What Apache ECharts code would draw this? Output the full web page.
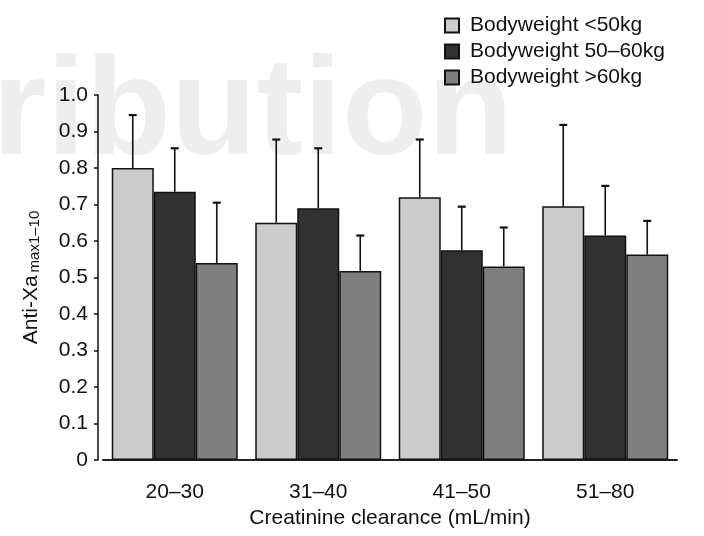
<!DOCTYPE html>
<html>
<head>
<meta charset="utf-8">
<script src="https://cdn.jsdelivr.net/npm/echarts@6/dist/echarts.min.js"></script>
<style>
html,body{margin:0;padding:0;background:#fff;}
#c{width:704px;height:536px;}
</style>
</head>
<body>
<div id="c"></div>
<script>
var categories = ['20–30', '31–40', '41–50', '51–80'];
var seriesNames = ['Bodyweight <50kg', 'Bodyweight 50–60kg', 'Bodyweight >60kg'];
var meansLight = [0.80, 0.65, 0.72, 0.695];
var meansDark = [0.735, 0.69, 0.575, 0.615];
var meansMid = [0.54, 0.518, 0.53, 0.563];
var upperLight = [0.945, 0.878, 0.878, 0.918];
var upperDark = [0.854, 0.854, 0.694, 0.751];
var upperMid = [0.705, 0.615, 0.637, 0.655];
var yTicks = [0, 0.1, 0.2, 0.3, 0.4, 0.5, 0.6, 0.7, 0.8, 0.9, 1.0];

var means = [meansLight, meansDark, meansMid];
var uppers = [upperLight, upperDark, upperMid];
var colors = ['#cbcbcb', '#313131', '#7f7f7f'];
var BAR_W = 42;
var FONT = "'Liberation Sans', Arial, sans-serif";

var chart = echarts.init(document.getElementById('c'), null, {renderer: 'canvas'});

var series = [];
means.forEach(function (m, i) {
  series.push({
    name: seriesNames[i],
    type: 'bar',
    data: m,
    barWidth: BAR_W,
    barGap: '0%',
    itemStyle: {color: colors[i], borderColor: '#111', borderWidth: 1.5},
    z: 3
  });
});
means.forEach(function (m, i) {
  var d = m.map(function (v, k) { return [k, uppers[i][k], v]; });
  series.push({
    type: 'custom',
    data: d,
    z: 2,
    silent: true,
    renderItem: function (params, api) {
      var top = api.coord([api.value(0), api.value(1)]);
      var base = api.coord([api.value(0), api.value(2)]);
      var x = top[0] + (i - 1) * BAR_W;
      var cap = 4;
      return {
        type: 'group',
        children: [
          {type: 'line', shape: {x1: x, y1: base[1], x2: x, y2: top[1]}, style: {stroke: '#111', lineWidth: 1.6}},
          {type: 'line', shape: {x1: x - cap, y1: top[1], x2: x + cap, y2: top[1]}, style: {stroke: '#111', lineWidth: 2.2}}
        ]
      };
    }
  });
});

var option = {
  animation: false,
  backgroundColor: '#fff',
  graphic: [{
    type: 'text',
    left: -8,
    top: 45,
    z: -10,
    silent: true,
    style: {text: 'ribution', fill: '#eeeeee', font: 'bold 140px ' + FONT}
  }],
  legend: {
    orient: 'vertical',
    left: 439,
    top: 10,
    itemWidth: 14,
    itemHeight: 14,
    itemGap: 5,
    icon: 'rect',
    data: seriesNames,
    textStyle: {fontFamily: FONT, fontSize: 21, color: '#111', padding: [0, 0, 0, 6]}
  },
  grid: {left: 103, right: 27, top: 95, bottom: 76, containLabel: false},
  xAxis: {
    type: 'category',
    data: categories,
    axisTick: {show: false},
    axisLine: {lineStyle: {color: '#222', width: 2}},
    axisLabel: {fontFamily: FONT, fontSize: 21, color: '#111', margin: 22},
    name: 'Creatinine clearance (mL/min)',
    nameLocation: 'middle',
    nameGap: 48,
    nameTextStyle: {fontFamily: FONT, fontSize: 21, color: '#111'}
  },
  yAxis: {
    type: 'value',
    min: 0,
    max: 1.0,
    interval: 0.1,
    offset: 5,
    splitLine: {show: false},
    axisLine: {show: true, lineStyle: {color: '#111', width: 1.5}},
    axisTick: {show: true, length: 4, lineStyle: {color: '#111', width: 1.5}},
    axisLabel: {
      fontFamily: FONT, fontSize: 21, color: '#111', margin: 10,
      formatter: function (v) { return v === 0 ? '0' : v.toFixed(1); }
    },
    name: '{a|Anti-Xa}{b|max1–10}',
    nameLocation: 'middle',
    nameGap: 56,
    nameTextStyle: {
      rich: {
        a: {fontFamily: FONT, fontSize: 21, color: '#111'},
        b: {fontFamily: FONT, fontSize: 15, color: '#111', verticalAlign: 'bottom', padding: [6, 0, 0, 3]}
      }
    }
  },
  series: series
};
chart.setOption(option);
</script>
</body>
</html>
